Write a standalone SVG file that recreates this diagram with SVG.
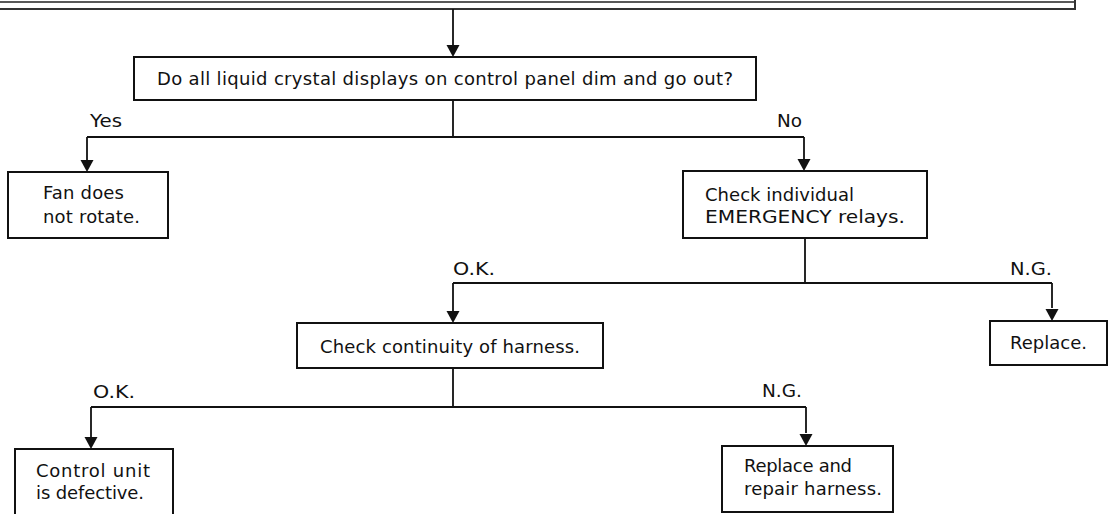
<svg xmlns="http://www.w3.org/2000/svg" width="1109" height="514" viewBox="0 0 1109 514">
<style>
.box{fill:#fff;stroke:#111;stroke-width:2}
.ln{fill:none;stroke:#111;stroke-width:1.8}
.ah{fill:#111}
text{font-family:"DejaVu Sans","Liberation Sans",sans-serif;font-size:18px;fill:#111}
</style>
<rect width="1109" height="514" fill="#fff"/>
<g id="top-box">
<line x1="0" y1="2" x2="1075" y2="2" stroke="#222" stroke-width="1.5"/>
<path d="M0,9 H1075 V-5" fill="none" stroke="#333" stroke-width="2"/>
</g>
<g id="connectors">
<path class="ln" d="M453,9 V46"/>
<path class="ln" d="M453,100 V137 M87,137 H804"/>
<path class="ln" d="M87,137 V161"/>
<path class="ln" d="M804,137 V159"/>
<path class="ln" d="M805,238 V283 M453,283 H1052"/>
<path class="ln" d="M453,283 V312"/>
<path class="ln" d="M1052,283 V308"/>
<path class="ln" d="M453,368 V407 M91,407 H806"/>
<path class="ln" d="M91,407 V437"/>
<path class="ln" d="M806,407 V433"/>
<path class="ah" d="M446.5,45 H459.5 L453,57 Z"/>
<path class="ah" d="M80.5,160 H93.5 L87,172 Z"/>
<path class="ah" d="M797.5,159 H810.5 L804,171 Z"/>
<path class="ah" d="M446.5,311 H459.5 L453,323 Z"/>
<path class="ah" d="M1045.5,309 H1058.5 L1052,321 Z"/>
<path class="ah" d="M84.5,437 H97.5 L91,449 Z"/>
<path class="ah" d="M799.5,434 H812.5 L806,446 Z"/>
<text x="90" y="127" textLength="32" lengthAdjust="spacingAndGlyphs">Yes</text>
<text x="777" y="127" textLength="25" lengthAdjust="spacingAndGlyphs">No</text>
<text x="453" y="275" textLength="42" lengthAdjust="spacingAndGlyphs">O.K.</text>
<text x="1010" y="275" textLength="42" lengthAdjust="spacingAndGlyphs">N.G.</text>
<text x="93" y="398" textLength="42" lengthAdjust="spacingAndGlyphs">O.K.</text>
<text x="762" y="397" textLength="40" lengthAdjust="spacingAndGlyphs">N.G.</text>
</g>
<g id="q1">
<rect class="box" x="134" y="57" width="622" height="43"/>
<text x="157" y="85" textLength="576" lengthAdjust="spacing">Do all liquid crystal displays on control panel dim and go out?</text>
</g>
<g id="fan">
<rect class="box" x="8" y="172" width="160" height="66"/>
<text x="43" y="199" textLength="81" lengthAdjust="spacing">Fan does</text>
<text x="43" y="223" textLength="97" lengthAdjust="spacing">not rotate.</text>
</g>
<g id="relays">
<rect class="box" x="683" y="171" width="244" height="67"/>
<text x="705" y="201" textLength="149" lengthAdjust="spacing">Check individual</text>
<text x="705" y="223" textLength="200" lengthAdjust="spacingAndGlyphs">EMERGENCY relays.</text>
</g>
<g id="replace">
<rect class="box" x="990" y="321" width="117" height="44"/>
<text x="1010" y="349">Replace.</text>
</g>
<g id="harness">
<rect class="box" x="297" y="323" width="306" height="45"/>
<text x="320" y="353" textLength="260" lengthAdjust="spacing">Check continuity of harness.</text>
</g>
<g id="control">
<rect class="box" x="15" y="449" width="158" height="80"/>
<text x="36" y="477" textLength="114" lengthAdjust="spacing">Control unit</text>
<text x="36" y="499" textLength="108" lengthAdjust="spacing">is defective.</text>
</g>
<g id="repair">
<rect class="box" x="722" y="446" width="171" height="66"/>
<text x="744" y="472" textLength="108" lengthAdjust="spacing">Replace and</text>
<text x="744" y="495" textLength="138" lengthAdjust="spacing">repair harness.</text>
</g>
</svg>
